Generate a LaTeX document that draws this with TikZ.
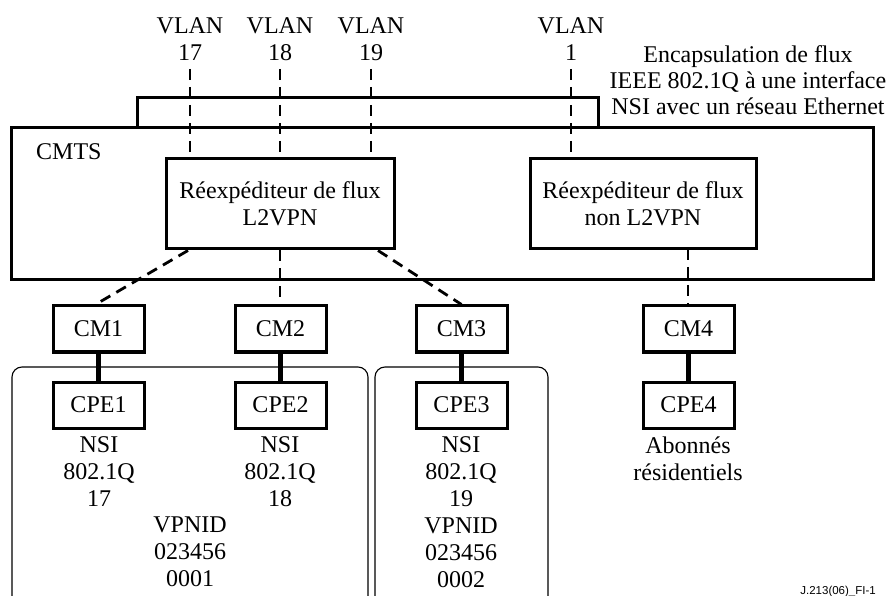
\documentclass[tikz,border=0pt]{standalone}
\usepackage{fontspec}
\setmainfont{Liberation Serif}
\newfontfamily\figsans{Liberation Sans}
\usetikzlibrary{calc}
\tikzset{
  lbl/.style={inner sep=0pt, align=center, font=\fontsize{24}{27}\selectfont},
  unit/.style={draw, line width=3pt, inner sep=0pt, align=center,
               font=\fontsize{24}{27}\selectfont},
  dev/.style={unit, minimum width=91pt, minimum height=46pt},
  link/.style={line width=2.8pt, dash pattern=on 11pt off 7pt},
  wire/.style={line width=4.5pt},
  group/.style={draw, line width=1.1pt, rounded corners=10pt}
}
\begin{document}
\begin{tikzpicture}[x=1pt, y=-1pt]
  \useasboundingbox (0,0) rectangle (887,596);
  \clip (0,0) rectangle (887,596);

  % NSI interface box and CMTS enclosure
  \draw[line width=3pt] (137,128) -- (137,98) -- (598,98) -- (598,128);
  \draw[line width=3pt] (11,128) rectangle (873,280);
  \node[lbl, anchor=west] (cmts) at (36,152) {CMTS};

  % forwarders inside the CMTS
  \node[unit, minimum width=228pt, minimum height=90pt] (fwd) at (280,204)
    {R\'eexp\'editeur de flux\\L2VPN};
  \node[unit, minimum width=226pt, minimum height=90pt] (nfwd) at (643,204)
    {R\'eexp\'editeur de flux\\non L2VPN};

  % VLAN tags on the Ethernet side
  \node[lbl] (t17) at (190,39) {VLAN\\17};
  \node[lbl] (t18) at (280,39) {VLAN\\18};
  \node[lbl] (t19) at (371,39) {VLAN\\19};
  \node[lbl] (t1)  at (571,39) {VLAN\\1};
  \node[lbl, font=\fontsize{24}{26}\selectfont] (encap) at (748,80)
    {Encapsulation de flux\\IEEE 802.1Q \`a une interface\\NSI avec un r\'eseau Ethernet};

  \coordinate (v17) at (190,69);
  \coordinate (v18) at (280,69);
  \coordinate (v19) at (371,69);
  \coordinate (v1)  at (571,69);
  \draw[link] (v17) -- (v17 |- fwd.north);
  \draw[link] (v18) -- (v18 |- fwd.north);
  \draw[link] (v19) -- (v19 |- fwd.north);
  \draw[link] (v1)  -- (v1 |- nfwd.north);

  % cable modems
  \node[dev] (cm1) at (98.5,329) {CM1};
  \node[dev] (cm2) at (280.5,329) {CM2};
  \node[dev] (cm3) at (461.5,329) {CM3};
  \node[dev] (cm4) at (688.5,329) {CM4};

  \draw[link] ($(fwd.south)+(-92,0)$) -- ($(cm1.north)+(-3,0)$);
  \draw[link] (fwd.south) -- (fwd.south |- cm2.north);
  \draw[link] ($(fwd.south)+(98,0)$) -- (cm3.north);
  \coordinate (n4) at (688,249);
  \draw[link] (n4) -- (n4 |- cm4.north);

  % customer equipment groups
  \draw[group] (12,610) -- (12,367) -- (368,367) -- (368,610);
  \draw[group] (375,610) -- (375,367) -- (548,367) -- (548,610);

  \node[dev] (cpe1) at (98.5,405) {CPE1};
  \node[dev] (cpe2) at (280.5,405) {CPE2};
  \node[dev] (cpe3) at (461.5,405) {CPE3};
  \node[dev] (cpe4) at (688.5,405) {CPE4};

  \draw[wire] (cm1) -- (cpe1);
  \draw[wire] (cm2) -- (cpe2);
  \draw[wire] (cm3) -- (cpe3);
  \draw[wire] (cm4) -- (cpe4);

  % attachment details
  \node[lbl] (nsi1) at (99,472) {NSI\\802.1Q\\17};
  \node[lbl] (nsi2) at (280,472) {NSI\\802.1Q\\18};
  \node[lbl] (vpn1) at (190,552) {VPNID\\023456\\0001};
  \node[lbl] (nsi3) at (461,512.5) {NSI\\802.1Q\\19\\VPNID\\023456\\0002};
  \node[lbl] (res)  at (688,458.5) {Abonn\'es\\r\'esidentiels};

  \node[inner sep=0pt, anchor=base east, font=\figsans\fontsize{11.5}{14}\selectfont]
    (ref) at (876,594) {J.213(06)\_FI-1};
\end{tikzpicture}
\end{document}
